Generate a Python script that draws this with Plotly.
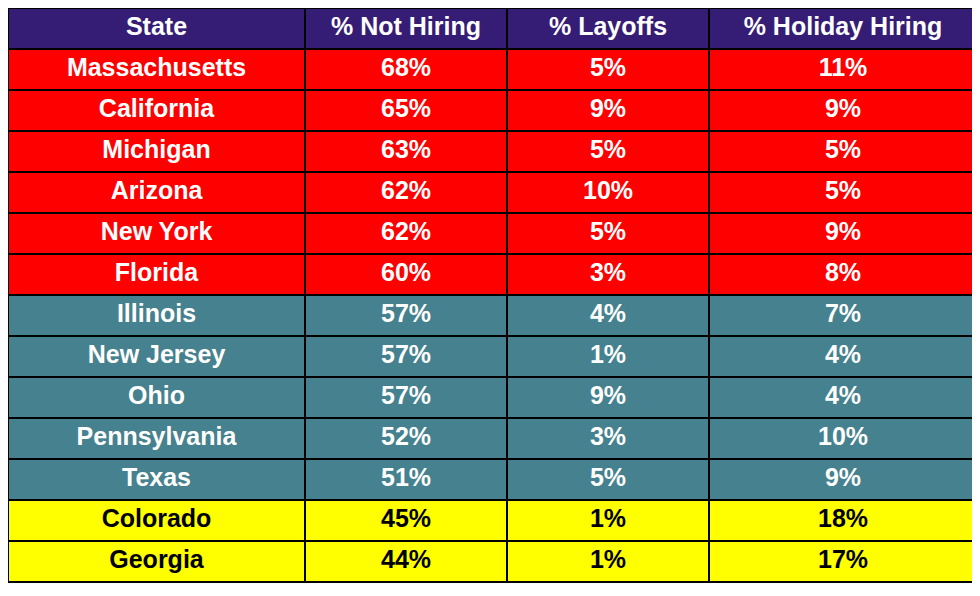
import plotly.graph_objects as go

headers = ["State", "% Not Hiring", "% Layoffs", "% Holiday Hiring"]
states = ["Massachusetts", "California", "Michigan", "Arizona", "New York", "Florida",
          "Illinois", "New Jersey", "Ohio", "Pennsylvania", "Texas", "Colorado", "Georgia"]
not_hiring = ["68%", "65%", "63%", "62%", "62%", "60%", "57%", "57%", "57%", "52%", "51%", "45%", "44%"]
layoffs = ["5%", "9%", "5%", "10%", "5%", "3%", "4%", "1%", "9%", "3%", "5%", "1%", "1%"]
holiday = ["11%", "9%", "5%", "5%", "9%", "8%", "7%", "4%", "4%", "10%", "9%", "18%", "17%"]
groups = ["red"] * 6 + ["teal"] * 5 + ["yellow"] * 2

fill_map = {"red": "#ff0000", "teal": "#45818e", "yellow": "#ffff00"}
font_map = {"red": "#ffffff", "teal": "#ffffff", "yellow": "#000000"}
fills = [fill_map[g] for g in groups]
fcols = [font_map[g] for g in groups]

fig = go.Figure(go.Table(
    columnwidth=[297, 202, 202, 268],
    header=dict(values=headers, fill_color="#351c75", height=41, align="center",
                line=dict(color="black", width=2),
                font=dict(family="Liberation Sans", size=25, color="white", weight="bold")),
    cells=dict(values=[states, not_hiring, layoffs, holiday],
               fill_color=[fills] * 4, height=41, align="center",
               line=dict(color="black", width=2),
               font=dict(family="Liberation Sans", size=25, color=[fcols] * 4, weight="bold")),
))
fig.update_layout(width=972, height=588, margin=dict(l=0, r=3, t=0, b=0),
                  paper_bgcolor="white")
fig.write_html("out.html")
